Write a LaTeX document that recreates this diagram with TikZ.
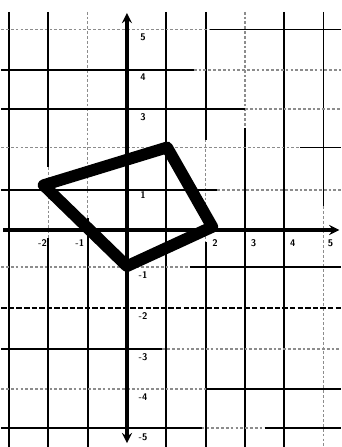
\documentclass[tikz,border=0pt]{standalone}
\usepackage{tikz}
\usetikzlibrary{arrows,calc}

\begin{document}
\begin{tikzpicture}[
    every node/.style={font=\sffamily\bfseries\scriptsize, inner sep=1pt},
    gridsolid/.style={draw=black, line width=1.3pt},
    gridfaint/.style={draw=black!45, line width=1.1pt, dash pattern=on 2pt off 1.5pt},
    axis/.style={draw=black, line width=2.2pt, -stealth},
    quadline/.style={draw=black, line width=8.5pt, line join=round, line cap=round},
]
\useasboundingbox (-3.23,-5.52) rectangle (5.45,5.85);

% Vertical grid lines
\draw[gridsolid] (-3,5.55) -- (-3,-5.52);
\draw[gridsolid] (-2,5.55) -- (-2,1.6);
\draw[gridfaint] (-2,1.6) -- (-2,-0.2);
\draw[gridsolid] (-2,-0.2) -- (-2,-5.52);
\draw[gridfaint] (-1,5.55) -- (-1,0.3);
\draw[gridsolid] (-1,0.3) -- (-1,-5.52);
\draw[gridsolid] (1,5.55) -- (1,-5.52);
\draw[gridsolid] (2,5.55) -- (2,2.3);
\draw[gridfaint] (2,2.3) -- (2,-0.3);
\draw[gridsolid] (2,-0.3) -- (2,-5.52);
\draw[gridfaint] (3,5.55) -- (3,2.6);
\draw[gridsolid] (3,2.6) -- (3,-5.52);
\draw[gridsolid] (4,5.55) -- (4,-5.52);
\draw[gridsolid] (5,5.55) -- (5,0.6);
\draw[gridfaint] (5,0.6) -- (5,-5.52);

% Horizontal grid lines
\draw[gridfaint] (-3.2,5.1) -- (2.1,5.1);
\draw[gridsolid] (2.1,5.1) -- (5.45,5.1);
\draw[gridsolid] (-3.2,4.07) -- (1.7,4.07);
\draw[gridfaint] (1.7,4.07) -- (5.45,4.07);
\draw[gridsolid] (-3.2,3.08) -- (3,3.08);
\draw[gridfaint] (3,3.08) -- (5.45,3.08);
\draw[gridfaint] (-3.2,2.1) -- (4.4,2.1);
\draw[gridsolid] (4.4,2.1) -- (5.45,2.1);
\draw[gridsolid] (-3.2,1.02) -- (2.3,1.02);
\draw[gridfaint] (2.3,1.02) -- (5.45,1.02);
\draw[gridfaint] (-3.2,-0.94) -- (1.6,-0.94);
\draw[gridsolid] (1.6,-0.94) -- (5.45,-0.94);
\draw[gridsolid, dash pattern=on 4pt off 1.5pt] (-3.2,-1.98) -- (5.45,-1.98);
\draw[gridsolid] (-3.2,-3.03) -- (0.9,-3.03);
\draw[gridfaint] (0.9,-3.03) -- (5.45,-3.03);
\draw[gridfaint] (-3.2,-4.05) -- (2,-4.05);
\draw[gridsolid] (2,-4.05) -- (5.45,-4.05);
\draw[gridsolid] (-3.2,-5.04) -- (1.9,-5.04);
\draw[gridfaint] (1.9,-5.04) -- (3.5,-5.04);
\draw[gridsolid] (3.5,-5.04) -- (5.45,-5.04);

% Axes
\coordinate (xstart) at (-3.15,0);
\coordinate (xend) at (5.4,0);
\coordinate (ybot) at (0,-5.42);
\coordinate (ytop) at (0,5.52);
\coordinate (origin) at (0,0);
\draw[axis] (xstart) -- (xend);
\draw[axis] (origin) -- (ytop);
\draw[axis] (origin) -- (ybot);

% Axis numbers
\node (xm2) at (-2.15,-0.33) {-2};
\node (xm1) at (-1.2,-0.33) {-1};
\node (xp2) at (2.24,-0.33) {2};
\node (xp3) at (3.22,-0.33) {3};
\node (xp4) at (4.22,-0.33) {4};
\node (xp5) at (5.18,-0.33) {5};
\node (yp5) at (0.41,4.89) {5};
\node (yp4) at (0.41,3.9) {4};
\node (yp3) at (0.41,2.88) {3};
\node (yp1) at (0.41,0.89) {1};
\node (ym1) at (0.41,-1.15) {-1};
\node (ym2) at (0.41,-2.2) {-2};
\node (ym3) at (0.41,-3.23) {-3};
\node (ym4) at (0.41,-4.25) {-4};
\node (ym5) at (0.41,-5.27) {-5};

% Quadrilateral
\coordinate (west) at (-2.12,1.14);
\coordinate (north) at (1.02,2.1);
\coordinate (east) at (2.17,0.08);
\coordinate (south) at (0,-0.92);
\draw[quadline] (west) -- (north) -- (east) -- (south) -- cycle;

\end{tikzpicture}
\end{document}
